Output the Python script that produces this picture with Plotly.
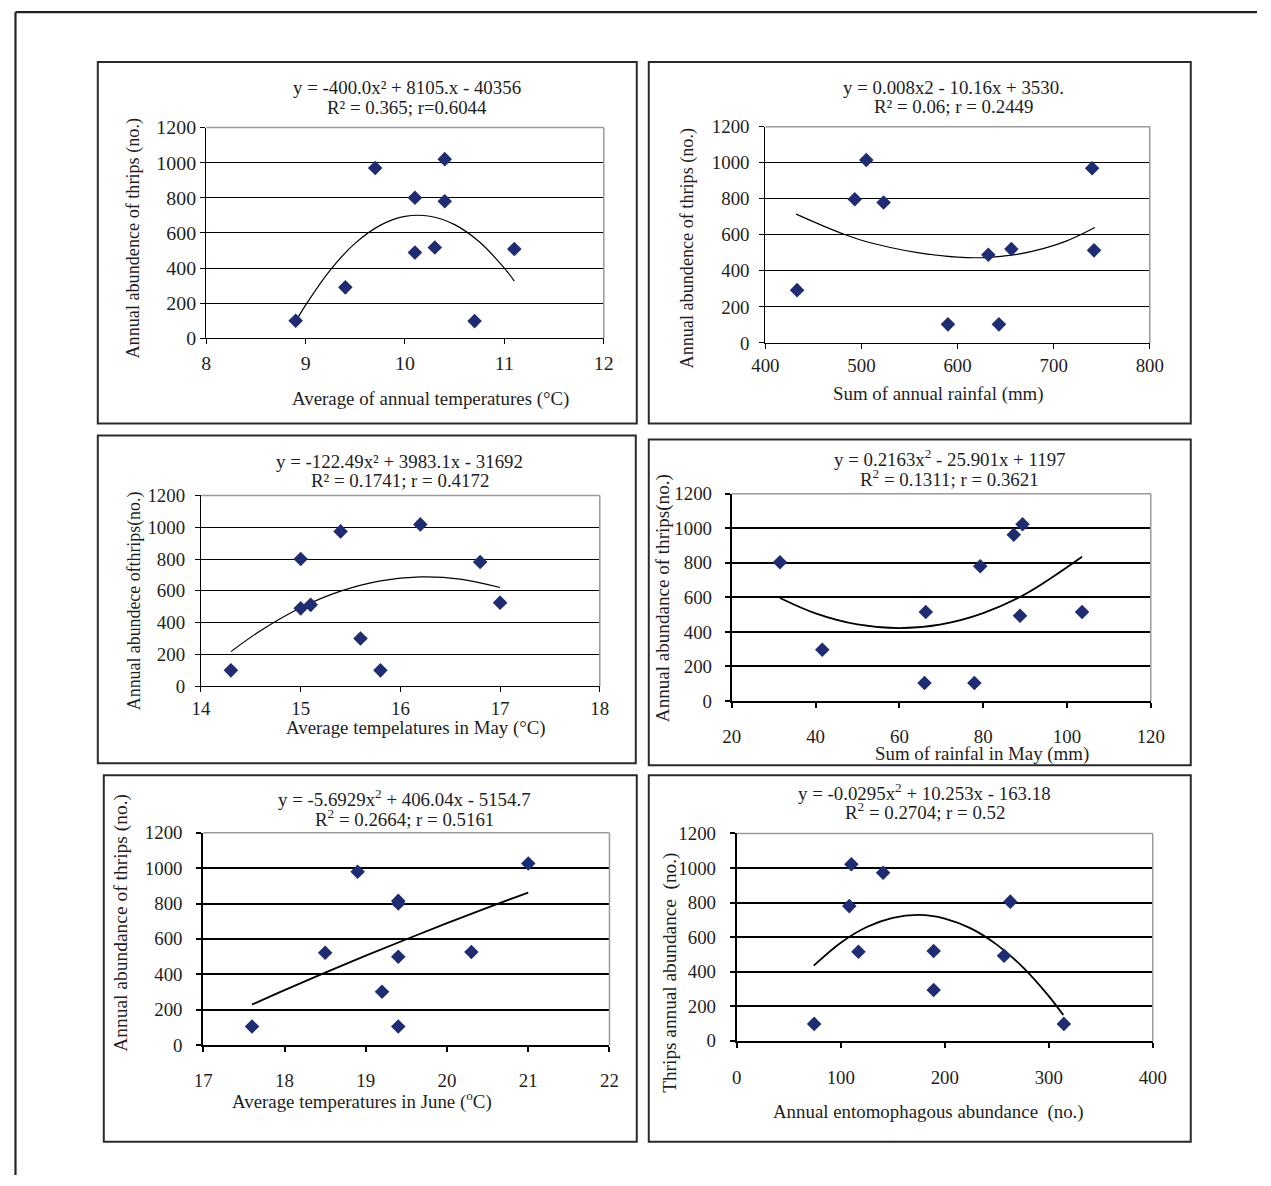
import plotly.graph_objects as go

W, H = 1271, 1186

# ---------------- data ----------------
p1_x = [8.9, 9.4, 9.7, 10.1, 10.1, 10.3, 10.4, 10.4, 10.7, 11.1]
p1_y = [100, 290, 970, 800, 488, 517, 1020, 780, 98, 508]
p1_fit_x = [8.9, 9.0, 9.25, 9.5, 9.75, 10.0, 10.25, 10.5, 10.75, 11.0, 11.1]
p1_fit_y = [95, 189, 390, 542, 643, 694, 695, 647, 548, 399, 326]

p2_x = [433, 493, 505, 523, 590, 632, 643, 656, 740, 742]
p2_y = [293, 798, 1016, 780, 103, 490, 103, 521, 970, 514]
p2_fit_x = [432, 460, 480, 500, 530, 560, 600, 630, 660, 690, 713, 743]
p2_fit_y = [715, 650, 607, 570, 530, 500, 476, 474, 490, 525, 565, 641]

p3_x = [14.3, 15.0, 15.0, 15.1, 15.4, 15.6, 15.8, 16.2, 16.8, 17.0]
p3_y = [100, 800, 490, 512, 974, 300, 100, 1018, 781, 526]
p3_fit_x = [14.3, 14.6, 15.0, 15.4, 15.8, 16.2, 16.6, 17.0]
p3_fit_y = [218, 351, 494, 598, 663, 688, 674, 621]

p4_x = [31.5, 41.6, 66.0, 66.3, 77.9, 79.3, 87.3, 89.4, 88.8, 103.6]
p4_y = [803, 297, 104, 515, 104, 780, 963, 1023, 494, 515]
p4_fit_x = [31.5, 40, 50, 60, 70, 80, 90, 103.6]
p4_fit_y = [596, 507, 443, 422, 444, 509, 618, 835]

p5_x = [17.6, 18.5, 18.9, 19.2, 19.4, 19.4, 19.4, 19.4, 20.3, 21.0]
p5_y = [104, 522, 980, 301, 800, 815, 499, 104, 526, 1026]
p5_fit_x = [17.6, 18.0, 18.5, 19.0, 19.5, 20.0, 20.5, 21.0]
p5_fit_y = [228, 310, 409, 505, 598, 689, 777, 862]

p6_x = [74.4, 110.2, 108.2, 117.0, 140.7, 189.3, 189.3, 257, 263, 314.5]
p6_y = [97, 1022, 779, 515, 972, 519, 293, 492, 805, 97]
p6_fit_x = [74, 100, 125, 150, 175, 200, 225, 250, 275, 300, 314]
p6_fit_y = [434, 567, 658, 711, 728, 707, 650, 556, 426, 258, 148]

y_ticks = [0, 200, 400, 600, 800, 1000, 1200]

# ---------------- layout geometry (target pixels of the photograph) ----------------
# the page is photographed slightly shrunk and centred; compensate for it
SX, OX = 0.978, 14.2
SY, OY = 0.9824, 10.07
SF = 0.98


def px(x):
    return min(max(((x - OX) / SX) / W, 0.0), 1.0)


def py(y):
    return min(max(1 - ((y - OY) / SY) / H, 0.0), 1.0)


def fsz(s):
    return s / SF


panels = [
    dict(xs=p1_x, ys=p1_y, fx=p1_fit_x, fy=p1_fit_y, xr=[8, 12], dt=1,
         area=(206.4, 126.7, 604, 337.7), box=(98, 61, 637, 423),
         t1="y = -400.0x² + 8105.x - 40356", t2="R² = 0.365; r=0.6044",
         tx=407, ty1=86.7, ty2=106.4,
         xt="Average of annual temperatures (°C)", xtx=431, xty=398,
         yt="Annual abundence of thrips (no.)", ytx=134, yty=237, yfs=17.8,
         fs=18.5, tfs=19.5, lw=1.2, fw=1.2, xso=2, yso=0),
    dict(xs=p2_x, ys=p2_y, fx=p2_fit_x, fy=p2_fit_y, xr=[400, 800], dt=100,
         area=(765.6, 126, 1150, 342.3), box=(649, 61, 1191, 423),
         t1="y = 0.008x2 - 10.16x + 3530.", t2="R² = 0.06; r = 0.2449",
         tx=954, ty1=86.7, ty2=106,
         xt="Sum of annual rainfal (mm)", xtx=939, xty=393,
         yt="Annual abundence of thrips (no.)", ytx=688, yty=247, yfs=17.8,
         fs=18.5, tfs=18.5, lw=1.2, fw=1.2, xso=0, yso=6),
    dict(xs=p3_x, ys=p3_y, fx=p3_fit_x, fy=p3_fit_y, xr=[14, 18], dt=1,
         area=(201.2, 495, 600, 686), box=(98, 435, 636, 763),
         t1="y = -122.49x² + 3983.1x - 31692", t2="R² = 0.1741; r = 0.4172",
         tx=400, ty1=460.7, ty2=480,
         xt="Average tempelatures in May (°C)", xtx=416, xty=728,
         yt="Annual abundece ofthrips(no.)", ytx=135, yty=600, yfs=17.5,
         fs=18.5, tfs=18.5, lw=1.2, fw=1.2, xso=0, yso=6),
    dict(xs=p4_x, ys=p4_y, fx=p4_fit_x, fy=p4_fit_y, xr=[20, 120], dt=20,
         area=(732, 493.3, 1151, 700.7), box=(649, 439, 1191, 765),
         t1="y = 0.2163x<sup>2</sup> - 25.901x + 1197", t2="R<sup>2</sup> = 0.1311; r = 0.3621",
         tx=950, ty1=458, ty2=478,
         xt="Sum of rainfal in May (mm)", xtx=982, xty=754,
         yt="Annual abundance of thrips(no.)", ytx=664, yty=598, yfs=18.7,
         fs=18.5, tfs=18.5, lw=2, fw=1.8, xso=12, yso=9),
    dict(xs=p5_x, ys=p5_y, fx=p5_fit_x, fy=p5_fit_y, xr=[17, 22], dt=1,
         area=(203.5, 832.7, 609.7, 1045), box=(104, 775, 637, 1142),
         t1="y = -5.6929x<sup>2</sup> + 406.04x - 5154.7", t2="R<sup>2</sup> = 0.2664; r = 0.5161",
         tx=405, ty1=798, ty2=818,
         xt="Average temperatures in June (<sup>o</sup>C)", xtx=362, xty=1101,
         yt="Annual abundance of thrips (no.)", ytx=121, yty=923, yfs=19.1,
         fs=18.5, tfs=18.5, lw=2, fw=1.8, xso=12, yso=10),
    dict(xs=p6_x, ys=p6_y, fx=p6_fit_x, fy=p6_fit_y, xr=[0, 400], dt=100,
         area=(737, 833.3, 1153, 1040.7), box=(649, 775, 1191, 1142),
         t1="y = -0.0295x<sup>2</sup> + 10.253x - 163.18", t2="R<sup>2</sup> = 0.2704; r = 0.52",
         tx=925, ty1=792, ty2=811,
         xt="Annual entomophagous abundance  (no.)", xtx=929, xty=1112,
         yt="Thrips annual abundance  (no.)", ytx=670, yty=973, yfs=18.9,
         fs=18.5, tfs=18.5, lw=2, fw=1.8, xso=14, yso=10),
]

FONT = "Liberation Serif, Times New Roman, serif"
TXT = "#1e1e1e"
NAVY = "#1f2c72"

fig = go.Figure()
shapes = []
annotations = []

# outer frame (only top and left edges visible)
shapes.append(dict(type="line", xref="paper", yref="paper",
                   x0=px(6) + 0.0012, y0=py(10) - 0.001, x1=1, y1=py(10) - 0.001,
                   line=dict(color="#222", width=2.2), layer="below"))
shapes.append(dict(type="line", xref="paper", yref="paper",
                   x0=px(6) + 0.0012, y0=py(10) - 0.001, x1=px(6) + 0.0012, y1=0,
                   line=dict(color="#222", width=2.2), layer="below"))

for i, p in enumerate(panels, start=1):
    xa = "x" if i == 1 else f"x{i}"
    ya = "y" if i == 1 else f"y{i}"
    x0, y0, x1, y1 = p["area"]
    fig.add_trace(go.Scatter(x=p["fx"], y=p["fy"], mode="lines",
                             line=dict(color="black", width=p["fw"], shape="spline"),
                             xaxis=xa, yaxis=ya, showlegend=False, hoverinfo="skip"))
    fig.add_trace(go.Scatter(x=p["xs"], y=p["ys"], mode="markers",
                             marker=dict(symbol="diamond", size=11.2, color=NAVY,
                                         line=dict(width=0)),
                             xaxis=xa, yaxis=ya, showlegend=False))
    axkey = "xaxis" if i == 1 else f"xaxis{i}"
    aykey = "yaxis" if i == 1 else f"yaxis{i}"
    common = dict(showline=True, linecolor="black", linewidth=p["lw"],
                  ticks="outside", ticklen=5, tickcolor="black", tickwidth=p["lw"],
                  zeroline=False, mirror=False,
                  tickfont=dict(family=FONT, size=fsz(p["tfs"]), color=TXT))
    fig.update_layout(**{
        axkey: dict(domain=[px(x0), px(x1)], range=p["xr"], dtick=p["dt"],
                    tick0=p["xr"][0], showgrid=False, anchor=ya,
                    ticklabelstandoff=p["xso"], **common),
        aykey: dict(domain=[py(y1), py(y0)], range=[0, 1200], tickvals=y_ticks,
                    showgrid=True, gridcolor="black", gridwidth=p["lw"] * 0.85,
                    anchor=xa, ticklabelstandoff=p["yso"], **common),
    })
    # gray plot-area border on top and right
    shapes.append(dict(type="line", xref="paper", yref="paper",
                       x0=px(x0), x1=px(x1), y0=py(y0), y1=py(y0),
                       line=dict(color="#9a9a9a", width=1.5), layer="above"))
    shapes.append(dict(type="line", xref="paper", yref="paper",
                       x0=px(x1), x1=px(x1), y0=py(y0), y1=py(y1),
                       line=dict(color="#9a9a9a", width=1.5), layer="above"))
    # panel box
    bx0, by0, bx1, by1 = p["box"]
    shapes.append(dict(type="rect", xref="paper", yref="paper",
                       x0=px(bx0), x1=px(bx1), y0=py(by1), y1=py(by0),
                       line=dict(color="#2a2a2a", width=2), layer="below"))
    f = dict(family=FONT, size=fsz(p["fs"]), color=TXT)
    for txt, yy in ((p["t1"], p["ty1"]), (p["t2"], p["ty2"])):
        annotations.append(dict(text=txt, x=px(p["tx"]), y=py(yy), xref="paper", yref="paper",
                                showarrow=False, xanchor="center", yanchor="middle", font=f))
    annotations.append(dict(text=p["xt"], x=px(p["xtx"]), y=py(p["xty"]), xref="paper",
                            yref="paper", showarrow=False, xanchor="center",
                            yanchor="middle", font=f))
    annotations.append(dict(text=p["yt"], x=px(p["ytx"]), y=py(p["yty"]), xref="paper",
                            yref="paper", showarrow=False, xanchor="center",
                            yanchor="middle", textangle=-90,
                            font=dict(family=FONT, size=fsz(p["yfs"]), color=TXT)))

fig.update_layout(width=W, height=H, margin=dict(l=0, r=0, t=0, b=0),
                  paper_bgcolor="white", plot_bgcolor="white",
                  shapes=shapes, annotations=annotations, showlegend=False)

fig.write_html(
    "out.html",
    config={"displayModeBar": False},
    post_script=(
        "document.documentElement.style.margin='0';"
        "document.documentElement.style.padding='0';"
        "document.documentElement.style.overflow='hidden';"
        "document.body.style.margin='0';"
        "document.body.style.padding='0';"
        "document.body.style.overflow='hidden';"
    ),
)
